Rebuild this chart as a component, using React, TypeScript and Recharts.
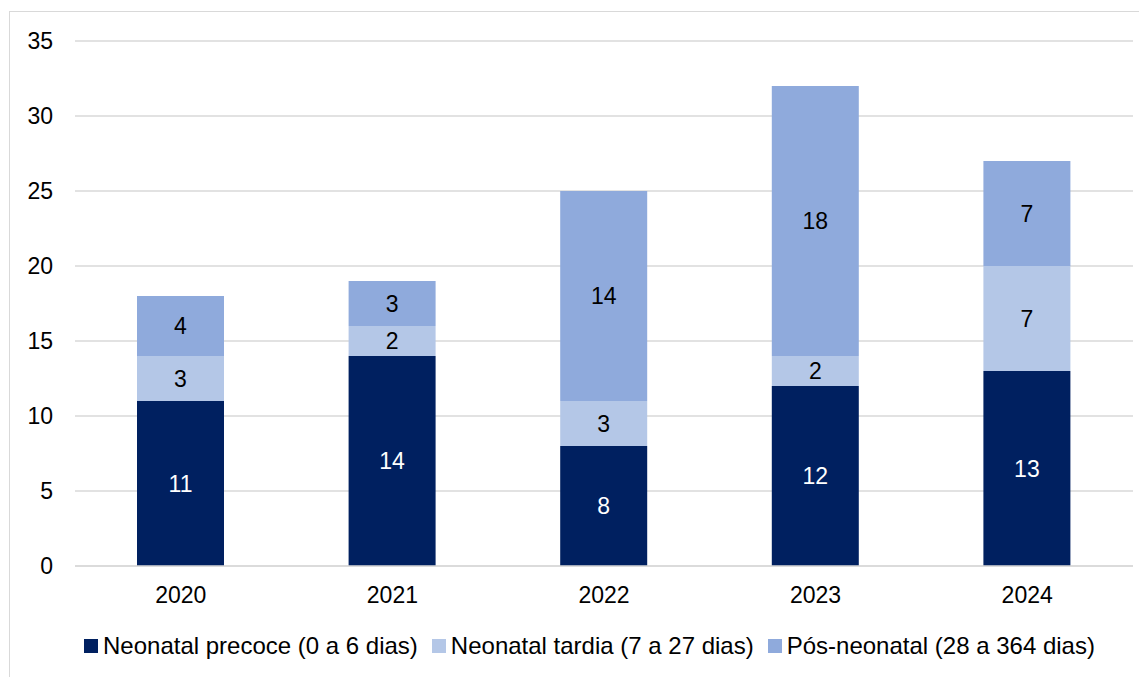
import { Bar, BarChart, CartesianGrid, Legend, XAxis, YAxis, LabelList } from "recharts";

const years = ["2020", "2021", "2022", "2023", "2024"];
const precoce = [11, 14, 8, 12, 13];
const tardia = [3, 2, 3, 2, 7];
const posNeonatal = [4, 3, 14, 18, 7];
const yTicks = [0, 5, 10, 15, 20, 25, 30, 35];

const series = [
  { key: "precoce", name: "Neonatal precoce (0 a 6 dias)", color: "#002060", label: "#ffffff" },
  { key: "tardia", name: "Neonatal tardia (7 a 27 dias)", color: "#b4c7e7", label: "#000000" },
  { key: "pos", name: "Pós-neonatal (28 a 364 dias)", color: "#8faadc", label: "#000000" },
];

const data = years.map((year, i) => ({
  year,
  precoce: precoce[i],
  tardia: tardia[i],
  pos: posNeonatal[i],
}));

const font = "'Liberation Sans', Arial, sans-serif";

function LegendBox() {
  return (
    <div
      style={{
        height: 30,
        display: "flex",
        alignItems: "center",
        paddingLeft: 74,
        fontFamily: font,
        fontSize: 24,
        color: "#000",
        lineHeight: "30px",
      }}
    >
      {series.map((s) => (
        <div key={s.key} style={{ display: "flex", alignItems: "center", marginRight: 14 }}>
          <span style={{ width: 14, height: 14, background: s.color, marginRight: 5, display: "inline-block" }} />
          <span style={{ whiteSpace: "nowrap" }}>{s.name}</span>
        </div>
      ))}
    </div>
  );
}

export default function App() {
  return (
    <div style={{ paddingTop: 3, paddingLeft: 1 }}>
      <style>{"body{overflow:hidden}"}</style>
      <div style={{ border: "1px solid #d9d9d9", width: 1140, height: 680, background: "#fff" }}>
        <BarChart
          width={1129}
          height={657}
          data={data}
          margin={{ top: 29, right: 6, left: 0, bottom: 8 }}
          style={{ fontFamily: font }}
        >
          <CartesianGrid vertical={false} stroke="#d9d9d9" strokeWidth={1.5} />
          <XAxis
            dataKey="year"
            height={65}
            tickLine={false}
            axisLine={{ stroke: "#d9d9d9", strokeWidth: 1.5 }}
            tickMargin={15}
            tick={{ fill: "#000", fontSize: 23, fontFamily: font }}
          />
          <YAxis
            width={65}
            domain={[0, 35]}
            ticks={yTicks}
            interval={0}
            tickLine={false}
            axisLine={false}
            tickMargin={16}
            tick={{ fill: "#000", fontSize: 23, fontFamily: font }}
          />
          <Legend verticalAlign="bottom" wrapperStyle={{ left: 0, width: 1129 }} content={() => <LegendBox />} />
          {series.map((s) => (
            <Bar key={s.key} dataKey={s.key} name={s.name} stackId="a" fill={s.color} barSize={87} isAnimationActive={false}>
              <LabelList dataKey={s.key} position="center" fill={s.label} fontSize={23} fontFamily={font} />
            </Bar>
          ))}
        </BarChart>
      </div>
    </div>
  );
}
